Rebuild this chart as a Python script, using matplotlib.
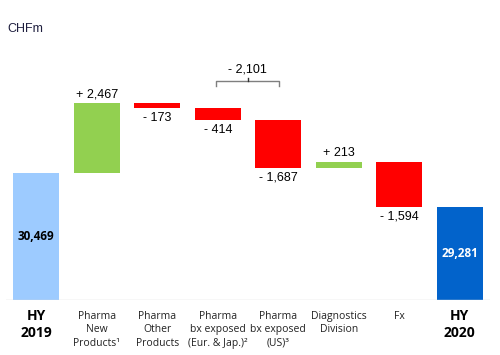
import numpy as np
import matplotlib
matplotlib.use("Agg")
from matplotlib import pyplot as plt

categories = ["HY\n2019", "Pharma\nNew\nProducts\u00b9", "Pharma\nOther\nProducts",
              "Pharma\nbx exposed\n(Eur. & Jap.)\u00b2", "Pharma\nbx exposed\n(US)\u00b3",
              "Diagnostics\nDivision", "Fx", "HY\n2020"]
start_value = 30469
end_value = 29281
deltas = [2467, -173, -414, -1687, 213, -1594]
delta_labels = ["+ 2,467", "- 173", "- 414", "- 1,687", "+ 213", "- 1,594"]
bracket_label = "- 2,101"
y_floor = 26000

fig = plt.figure(figsize=(5, 3.55), dpi=100)
ax = fig.add_axes([0.012, 0.155, 0.968, 0.704])
ax.set_xlim(-0.5, 7.5)
ax.set_ylim(y_floor, 34800)

w = 0.76
x = np.arange(len(categories))
levels = start_value + np.cumsum([0] + deltas)

# start and end bars
ax.bar(0, start_value - y_floor, bottom=y_floor, width=w, color="#9DCBFF")
ax.bar(7, end_value - y_floor, bottom=y_floor, width=w, color="#0263CB")
ax.text(0, (start_value + y_floor) / 2, "30,469", ha="center", va="center",
        fontsize=8.5, fontweight="bold", family="Open Sans", color="black")
ax.text(7, (end_value + y_floor) / 2, "29,281", ha="center", va="center",
        fontsize=8.5, fontweight="bold", family="Open Sans", color="white")

# floating bars
for i, d in enumerate(deltas):
    lo = min(levels[i], levels[i + 1])
    col = "#92D050" if d > 0 else "#FF0000"
    ax.bar(x[i + 1], abs(d), bottom=lo, width=w, color=col)
    if d > 0:
        ax.annotate(delta_labels[i], (x[i + 1], lo + abs(d)), xytext=(0, 2),
                    textcoords="offset points", ha="center", va="bottom",
                    fontsize=9, family="Liberation Sans")
    else:
        ax.annotate(delta_labels[i], (x[i + 1], lo), xytext=(0, -3),
                    textcoords="offset points", ha="center", va="top",
                    fontsize=9, family="Liberation Sans")

# bracket over the two bx exposed bars
bl, br = 2.97, 4.02
by = 33700
ax.plot([bl, bl, br, br], [by - 150, by, by, by - 150], color="#7f7f7f", lw=1,
        clip_on=False, solid_joinstyle="round")
ax.plot([(bl + br) / 2] * 2, [by, by + 120], color="#333333", lw=1, clip_on=False)
ax.text((bl + br) / 2, by + 190, bracket_label, ha="center", va="bottom",
        fontsize=9, family="Liberation Sans")

ax.axhline(y_floor, color="#d9d9d9", lw=1)

for s in ax.spines.values():
    s.set_visible(False)
ax.set_yticks([])
ax.set_xticks(x)
ax.set_xticklabels([])
ax.tick_params(length=0)
for i, c in enumerate(categories):
    if c.startswith("HY"):
        ax.text(x[i], y_floor - 330, c, ha="center", va="top", fontsize=10,
                fontweight="bold", family="Open Sans", linespacing=1.25)
    else:
        ax.text(x[i], y_floor - 380, c, ha="center", va="top", fontsize=7.5,
                family="Open Sans", color="#222222", linespacing=1.3)

fig.text(0.014, 0.918, "CHFm", fontsize=9, family="Liberation Sans",
         color="#1f1f3f", va="center")

fig.savefig("out.png", dpi=100)
